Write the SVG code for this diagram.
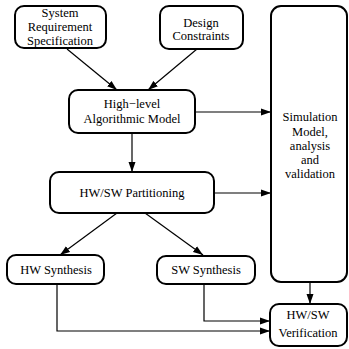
<svg xmlns="http://www.w3.org/2000/svg" width="349" height="349" viewBox="0 0 349 349">
<style>
.box{fill:#fff;stroke:#000;stroke-width:2}
.t{font-size:12.5px;fill:#000;text-anchor:middle}
.c{fill:none;stroke:#000;stroke-width:1.2}
</style>
<defs>
<marker id="ah" markerWidth="10" markerHeight="8" refX="10" refY="4" orient="auto" markerUnits="userSpaceOnUse">
<path d="M0,0.5 L10,4 L0,7.5 Z" fill="#000"/>
</marker>
</defs>
<rect width="349" height="349" fill="#fff"/>
<g id="connectors">
<line class="c" x1="67" y1="49" x2="117" y2="90" marker-end="url(#ah)"/>
<line class="c" x1="197" y1="49" x2="148" y2="90" marker-end="url(#ah)"/>
<line class="c" x1="195" y1="112" x2="271" y2="112" marker-end="url(#ah)"/>
<line class="c" x1="132" y1="133" x2="132" y2="172" marker-end="url(#ah)"/>
<line class="c" x1="214" y1="193" x2="271" y2="193" marker-end="url(#ah)"/>
<line class="c" x1="117" y1="213" x2="60" y2="255" marker-end="url(#ah)"/>
<line class="c" x1="145" y1="213" x2="203" y2="255" marker-end="url(#ah)"/>
<line class="c" x1="310" y1="282" x2="310" y2="304" marker-end="url(#ah)"/>
<polyline class="c" points="204,284 204,321 270,321" marker-end="url(#ah)"/>
<polyline class="c" points="57,284 57,331 270,331" marker-end="url(#ah)"/>
</g>
<g font-family="Liberation Serif, DejaVu Serif, serif">
<g id="srs">
<rect class="box" x="15" y="6" width="91" height="42" rx="9"/>
<text class="t" x="60" y="17">System</text>
<text class="t" x="60" y="31">Requirement</text>
<text class="t" x="60" y="45">Specification</text>
</g>
<g id="design">
<rect class="box" x="160" y="6" width="83" height="43" rx="9"/>
<text class="t" x="201" y="27">Design</text>
<text class="t" x="201" y="40">Constraints</text>
</g>
<g id="highlevel">
<rect class="box" x="69" y="90" width="126" height="43" rx="9"/>
<text class="t" x="132" y="108">High−level</text>
<text class="t" x="132" y="123">Algorithmic Model</text>
</g>
<g id="partition">
<rect class="box" x="50" y="172" width="164" height="41" rx="9"/>
<text class="t" x="132" y="197">HW/SW Partitioning</text>
</g>
<g id="simulation">
<rect class="box" x="271" y="6" width="76" height="276" rx="10"/>
<text class="t" x="310" y="121">Simulation</text>
<text class="t" x="310" y="136">Model,</text>
<text class="t" x="310" y="150">analysis</text>
<text class="t" x="310" y="164">and</text>
<text class="t" x="310" y="178">validation</text>
</g>
<g id="hwsynth">
<rect class="box" x="7" y="255" width="97" height="29" rx="9"/>
<text class="t" x="56" y="274">HW Synthesis</text>
</g>
<g id="swsynth">
<rect class="box" x="157" y="256" width="98" height="28" rx="9"/>
<text class="t" x="206" y="274">SW Synthesis</text>
</g>
<g id="verification">
<rect class="box" x="270" y="304" width="77" height="42" rx="9"/>
<text class="t" x="308" y="319">HW/SW</text>
<text class="t" x="308" y="337">Verification</text>
</g>
</g>
</svg>
